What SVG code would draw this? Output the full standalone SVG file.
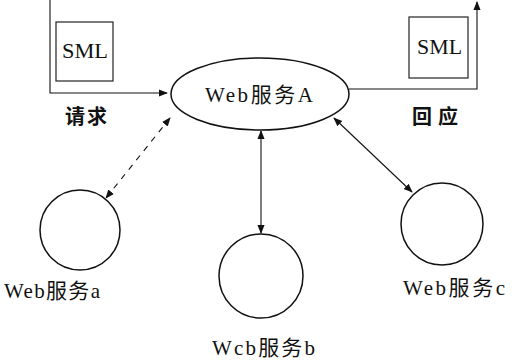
<svg xmlns="http://www.w3.org/2000/svg" width="525" height="363" viewBox="0 0 525 363">
<style>
.ln{stroke:#111;stroke-width:1.1;fill:none}
.sh{stroke:#111;stroke-width:1.5;fill:#fff}
.bx{stroke:#222;stroke-width:1.2;fill:none}
.t{font-family:"Liberation Serif","Noto Sans CJK SC",serif;fill:#111}
.lb{font-family:"Liberation Serif","Noto Sans CJK SC",serif;fill:#111;font-size:21px}
</style>
<defs>
<marker id="ah" viewBox="0 0 10 10" refX="9" refY="5" markerWidth="9" markerHeight="9" orient="auto-start-reverse" markerUnits="userSpaceOnUse"><path d="M0,1 L10,5 L0,9 Z" fill="#111"/></marker>
</defs>
<rect width="525" height="363" fill="#fff"/>
<g id="connectors">
<polyline class="ln" points="50,0 50,93 167,93" marker-end="url(#ah)"/>
<polyline class="ln" points="349,89 477,89 477,2" marker-end="url(#ah)"/>
<line class="ln" x1="170" y1="118" x2="106" y2="198" stroke-dasharray="6,6" marker-start="url(#ah)" marker-end="url(#ah)"/>
<line class="ln" x1="261" y1="131" x2="261" y2="233" marker-start="url(#ah)" marker-end="url(#ah)"/>
<line class="ln" x1="334" y1="118" x2="412" y2="192" marker-start="url(#ah)" marker-end="url(#ah)"/>
</g>
<g id="sml-request">
<rect class="bx" x="56" y="22" width="57" height="59"/>
<text class="t" x="62" y="58" font-size="21" textLength="46" lengthAdjust="spacingAndGlyphs">SML</text>
<text class="t" x="65" y="124" font-size="20" font-weight="bold" textLength="42" lengthAdjust="spacing">请求</text>
</g>
<g id="sml-response">
<rect class="bx" x="409" y="17" width="59" height="61"/>
<text class="t" x="417" y="54" font-size="21" textLength="45" lengthAdjust="spacingAndGlyphs">SML</text>
<text class="t" x="412" y="124" font-size="20" font-weight="bold" textLength="46" lengthAdjust="spacing">回应</text>
</g>
<g id="service-A">
<ellipse class="sh" cx="260" cy="94" rx="89" ry="36"/>
<text class="lb" x="205" y="102" textLength="108" lengthAdjust="spacing">Web服务A</text>
</g>
<g id="service-a">
<circle class="sh" cx="80" cy="230" r="40"/>
<text class="lb" x="4" y="298" textLength="96" lengthAdjust="spacing">Web服务a</text>
</g>
<g id="service-b">
<circle class="sh" cx="261" cy="276" r="42"/>
<text class="lb" x="212" y="355" textLength="103" lengthAdjust="spacing">Wcb服务b</text>
</g>
<g id="service-c">
<circle class="sh" cx="442" cy="224" r="41"/>
<text class="lb" x="403" y="295" textLength="102" lengthAdjust="spacing">Web服务c</text>
</g>
</svg>
